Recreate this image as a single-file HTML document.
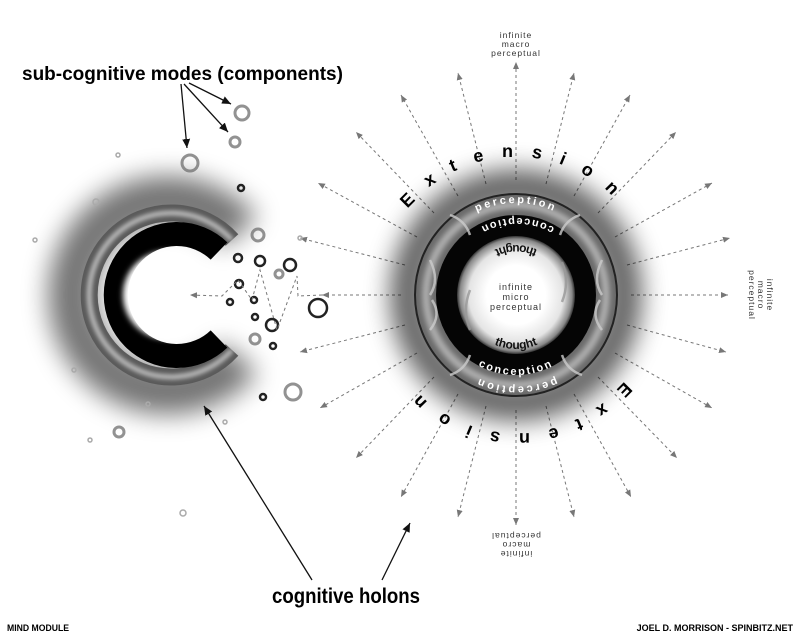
<!DOCTYPE html>
<html><head><meta charset="utf-8"><style>
html,body{margin:0;padding:0;background:#fff;}
svg{display:block;}
text{font-family:"Liberation Sans",sans-serif;}
</style></head><body>
<svg width="800" height="636" viewBox="0 0 800 636" xmlns="http://www.w3.org/2000/svg">
<defs>
<marker id="ag" markerWidth="8" markerHeight="8" refX="7" refY="4" orient="auto" markerUnits="userSpaceOnUse"><path d="M0,1 L7,4 L0,7 Z" fill="#777"/></marker>
<marker id="ab" markerWidth="10" markerHeight="10" refX="9" refY="5" orient="auto" markerUnits="userSpaceOnUse"><path d="M0,1 L9,5 L0,9 Z" fill="#111"/></marker>
<filter id="b10" x="-50%" y="-50%" width="200%" height="200%"><feGaussianBlur stdDeviation="13"/></filter>
<filter id="b3" x="-50%" y="-50%" width="200%" height="200%"><feGaussianBlur stdDeviation="3"/></filter>
<filter id="b2" x="-50%" y="-50%" width="200%" height="200%"><feGaussianBlur stdDeviation="2"/></filter>
<radialGradient id="wc" cx="50%" cy="50%" r="50%"><stop offset="0.5" stop-color="#fff"/><stop offset="0.8" stop-color="#e4e4e4"/><stop offset="0.95" stop-color="#888"/><stop offset="1" stop-color="#333"/></radialGradient>
<path id="pTop" d="M378,295 A138,138 0 0 1 654,295"/>
<path id="pBot" d="M654,295 A138,138 0 0 1 378,295"/>
<path id="perT" d="M424,295 A92,92 0 0 1 608,295"/>
<path id="perB" d="M608,295 A91,91 0 0 1 425,295"/>
<path id="conT" d="M594,295 A76,76 0 0 0 440,295"/>
<path id="conB" d="M436,295 A80,80 0 0 0 596,295"/>
<path id="thT" d="M566,295 A50,50 0 0 0 466,295"/>
<path id="thB" d="M462,295 A54,54 0 0 0 570,295"/>
</defs>

<!-- rays -->
<g stroke="#777" stroke-width="1" stroke-dasharray="3,3" fill="none" marker-end="url(#ag)">
<line x1="516" y1="180" x2="516" y2="62"/>
<line x1="546" y1="184" x2="574" y2="73"/>
<line x1="574" y1="196" x2="630" y2="95"/>
<line x1="598" y1="213" x2="676" y2="132"/>
<line x1="615" y1="237" x2="712" y2="183"/>
<line x1="627" y1="265" x2="730" y2="238"/>
<line x1="631" y1="295" x2="728" y2="295"/>
<line x1="627" y1="325" x2="726" y2="352"/>
<line x1="615" y1="353" x2="712" y2="408"/>
<line x1="598" y1="377" x2="677" y2="458"/>
<line x1="574" y1="394" x2="631" y2="497"/>
<line x1="546" y1="406" x2="574" y2="517"/>
<line x1="516" y1="410" x2="516" y2="525"/>
<line x1="486" y1="406" x2="458" y2="517"/>
<line x1="458" y1="394" x2="401" y2="497"/>
<line x1="434" y1="377" x2="356" y2="458"/>
<line x1="417" y1="353" x2="320" y2="408"/>
<line x1="405" y1="325" x2="300" y2="352"/>
<line x1="401" y1="295" x2="322" y2="295"/>
<line x1="405" y1="265" x2="300" y2="238"/>
<line x1="417" y1="237" x2="318" y2="183"/>
<line x1="434" y1="213" x2="356" y2="132"/>
<line x1="458" y1="196" x2="401" y2="95"/>
<line x1="486" y1="184" x2="458" y2="73"/>
</g>

<!-- right holon -->
<circle cx="516" cy="295" r="108" fill="none" stroke="#000" stroke-width="34" filter="url(#b10)" opacity="0.65"/>
<circle cx="516" cy="295" r="90" fill="none" stroke="#6a6a6a" stroke-width="22"/>
<circle cx="516" cy="295" r="90" fill="none" stroke="#b5b5b5" stroke-width="7" filter="url(#b3)"/>
<circle cx="516" cy="295" r="101" fill="none" stroke="#222" stroke-width="2"/>
<circle cx="516" cy="295" r="80" fill="#050505"/>
<circle cx="516" cy="295" r="59" fill="url(#wc)"/>
<g fill="none" stroke="#ccc" stroke-width="2.5" opacity="0.8">
<path d="M430,260 q10,20 0,35"/><path d="M602,260 q-10,20 0,35"/>
<path d="M450,215 q15,5 20,20"/><path d="M580,215 q-15,5 -20,20"/>
<path d="M450,375 q15,-5 20,-20"/><path d="M582,375 q-15,-5 -20,-20"/>
<path d="M430,330 q12,-15 2,-30"/><path d="M602,330 q-12,-15 -2,-30"/>
<path d="M470,330 q-8,-20 0,-40" stroke="#999"/><path d="M562,262 q8,20 0,40" stroke="#999"/>
</g>
<text font-size="11" font-weight="bold" fill="#fff" letter-spacing="2.5"><textPath href="#perT" startOffset="50%" text-anchor="middle">perception</textPath></text>
<text font-size="11" font-weight="bold" fill="#fff" letter-spacing="2.5"><textPath href="#perB" startOffset="50%" text-anchor="middle">perception</textPath></text>
<text font-size="11" font-weight="bold" fill="#fff" letter-spacing="2"><textPath href="#conT" startOffset="50%" text-anchor="middle">conception</textPath></text>
<text font-size="11" font-weight="bold" fill="#fff" letter-spacing="2"><textPath href="#conB" startOffset="50%" text-anchor="middle">conception</textPath></text>
<text font-size="12" font-weight="bold" fill="#111"><textPath href="#thT" startOffset="50%" text-anchor="middle">thought</textPath></text>
<text font-size="12" font-weight="bold" fill="#111"><textPath href="#thB" startOffset="50%" text-anchor="middle">thought</textPath></text>
<g font-size="9" fill="#333" text-anchor="middle" letter-spacing="1">
<text x="516" y="290">infinite</text><text x="516" y="300">micro</text><text x="516" y="310">perceptual</text>
</g>
<text font-size="18" font-weight="bold" fill="#000" letter-spacing="18"><textPath href="#pTop" startOffset="50%" text-anchor="middle">Extension</textPath></text>
<text font-size="18" font-weight="bold" fill="#000" letter-spacing="18"><textPath href="#pBot" startOffset="50%" text-anchor="middle">Extension</textPath></text>

<g font-size="8.5" fill="#333" text-anchor="middle" letter-spacing="1">
<text x="516" y="38">infinite</text><text x="516" y="47">macro</text><text x="516" y="56">perceptual</text>
<g transform="rotate(180 516 540)"><text x="516" y="529">infinite</text><text x="516" y="538">macro</text><text x="516" y="547">perceptual</text></g>
<g transform="rotate(90 758 295)"><text x="758" y="286">infinite</text><text x="758" y="295">macro</text><text x="758" y="304">perceptual</text></g>
</g>

<!-- left holon -->
<path d="M240,232 A96,96 0 1 0 240,358" fill="none" stroke="#000" stroke-width="46" filter="url(#b10)" opacity="0.55"/>
<path d="M232,240 A82,82 0 1 0 232,350" fill="none" stroke="#5a5a5a" stroke-width="17"/>
<path d="M232,240 A82,82 0 1 0 232,350" fill="none" stroke="#bbb" stroke-width="5" filter="url(#b2)"/>
<path d="M219,251 A61,61 0 1 0 219,339" fill="none" stroke="#000" stroke-width="24"/>
<circle cx="167" cy="295" r="44" fill="#fff" filter="url(#b3)"/>

<!-- bubbles -->
<g fill="none" stroke="#222" stroke-width="2.5">
<circle cx="260" cy="261" r="5"/><circle cx="238" cy="258" r="4"/><circle cx="272" cy="325" r="6"/>
<circle cx="290" cy="265" r="6"/><circle cx="318" cy="308" r="9"/><circle cx="239" cy="284" r="4"/>
<circle cx="255" cy="317" r="3"/><circle cx="230" cy="302" r="3"/><circle cx="254" cy="300" r="3"/>
<circle cx="241" cy="188" r="3"/><circle cx="263" cy="397" r="3"/><circle cx="273" cy="346" r="3"/>
</g>
<g fill="none" stroke="#777" stroke-width="3" opacity="0.8">
<circle cx="242" cy="113" r="7"/><circle cx="235" cy="142" r="5"/><circle cx="190" cy="163" r="8"/>
<circle cx="258" cy="235" r="6"/><circle cx="293" cy="392" r="8"/><circle cx="119" cy="432" r="5"/>
<circle cx="255" cy="339" r="5"/><circle cx="279" cy="274" r="4"/>
</g>
<g fill="none" stroke="#aaa" stroke-width="1.5">
<circle cx="118" cy="155" r="2"/><circle cx="35" cy="240" r="2"/><circle cx="74" cy="370" r="2"/>
<circle cx="96" cy="202" r="3"/><circle cx="148" cy="404" r="2"/><circle cx="225" cy="422" r="2"/>
<circle cx="90" cy="440" r="2"/><circle cx="183" cy="513" r="3"/><circle cx="300" cy="238" r="2"/>
</g>
<g stroke="#777" stroke-width="1" stroke-dasharray="3,3" fill="none">
<path d="M322,295 L298,296 L297,276 L277,330 L260,270 L252,300 L238,280 L222,296 L190,295" marker-end="url(#ag)"/>
</g>

<!-- labels & arrows -->
<text x="22" y="80" font-size="19" font-weight="bold" fill="#000">sub-cognitive modes (components)</text>
<g stroke="#111" stroke-width="1.3" marker-end="url(#ab)">
<line x1="181" y1="84" x2="187" y2="148"/>
<line x1="184" y1="84" x2="228" y2="132"/>
<line x1="189" y1="83" x2="231" y2="104"/>
<line x1="312" y1="580" x2="204" y2="406"/>
<line x1="382" y1="580" x2="410" y2="523"/>
</g>
<text x="272" y="603" font-size="21" font-weight="bold" fill="#000" textLength="148" lengthAdjust="spacingAndGlyphs">cognitive holons</text>
<text x="7" y="631" font-size="9" font-weight="bold" fill="#000" textLength="62" lengthAdjust="spacingAndGlyphs">MIND MODULE</text>
<text x="793" y="631" font-size="9" font-weight="bold" fill="#000" text-anchor="end">JOEL D. MORRISON - SPINBITZ.NET</text>
</svg>
</body></html>
